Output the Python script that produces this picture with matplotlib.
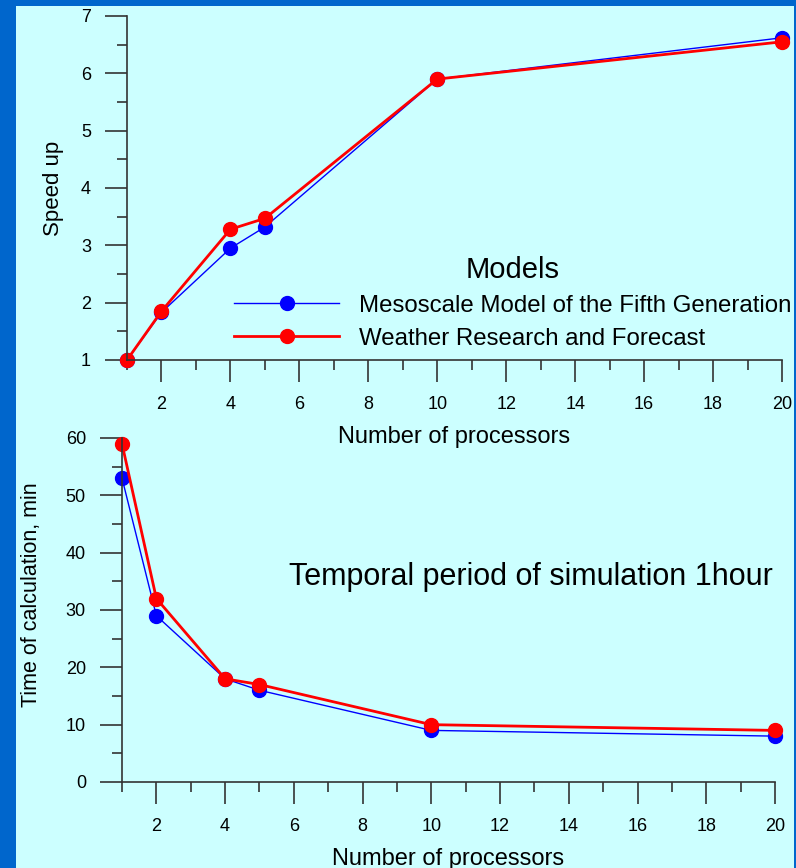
import matplotlib.pyplot as plt
from matplotlib.patches import Rectangle
from matplotlib.ticker import MultipleLocator

plt.rcParams['font.family'] = ['Liberation Sans', 'DejaVu Sans']

processors = [1, 2, 4, 5, 10, 20]
speedup_mm5 = [1.0, 1.83, 2.95, 3.32, 5.9, 6.62]
speedup_wrf = [1.0, 1.85, 3.28, 3.47, 5.9, 6.55]
time_mm5 = [53, 29, 18, 16, 9, 8]
time_wrf = [59, 32, 18, 17, 10, 9]

label_mm5 = "Mesoscale Model of the Fifth Generation"
label_wrf = "Weather Research and Forecast"

bg = '#ccffff'
frame = '#0066cc'
axcol = '#333333'

W, H = 796, 868
fig = plt.figure(figsize=(W / 100, H / 100), dpi=100)
fig.patch.set_facecolor(frame)
fig.patches.append(Rectangle((16 / W, 0), (794 - 16) / W, 1 - 6 / H,
                             transform=fig.transFigure, facecolor=bg,
                             edgecolor='none', zorder=-10))


def style(ax):
    ax.set_facecolor('none')
    for s in ['top', 'right']:
        ax.spines[s].set_visible(False)
    for s in ['left', 'bottom']:
        ax.spines[s].set_color(axcol)
        ax.spines[s].set_linewidth(1.2)
    ax.xaxis.set_major_locator(MultipleLocator(2))
    ax.xaxis.set_minor_locator(MultipleLocator(1))
    ax.tick_params(which='major', direction='out', length=16, width=1.2,
                   color=axcol, labelsize=13, pad=10)
    ax.tick_params(which='minor', direction='out', length=7.5, width=1.2,
                   color=axcol)
    ax.set_xlim(1, 20)


# speed-up
ax1 = fig.add_axes([127 / W, 1 - 360 / H, (782 - 127) / W, (360 - 16) / H])
style(ax1)
ax1.set_ylim(1, 7)
ax1.yaxis.set_major_locator(MultipleLocator(1))
ax1.yaxis.set_minor_locator(MultipleLocator(0.5))
ax1.set_xticks([2, 4, 6, 8, 10, 12, 14, 16, 18, 20])
ax1.plot(processors, speedup_mm5, color='blue', lw=1, marker='o', ms=10,
         clip_on=False, label=label_mm5)
ax1.plot(processors, speedup_wrf, color='red', lw=2, marker='o', ms=10,
         clip_on=False, label=label_wrf)
ax1.set_ylabel('Speed up', fontsize=16, labelpad=12)
ax1.set_xlabel('Number of processors', fontsize=17, labelpad=9)
leg = ax1.legend(loc='lower left', bbox_to_anchor=(0.163, 0.03), frameon=False,
                 fontsize=17.3, title='Models', title_fontsize=21,
                 handlelength=4.4, handletextpad=0.8, labelspacing=0.45,
                 borderpad=0, borderaxespad=0)

# calculation time
ax2 = fig.add_axes([122 / W, 1 - 782 / H, (775 - 122) / W, (782 - 438) / H])
style(ax2)
ax2.set_ylim(0, 60)
ax2.yaxis.set_major_locator(MultipleLocator(10))
ax2.yaxis.set_minor_locator(MultipleLocator(5))
ax2.set_xticks([2, 4, 6, 8, 10, 12, 14, 16, 18, 20])
ax2.plot(processors, time_mm5, color='blue', lw=1, marker='o', ms=10,
         clip_on=False)
ax2.plot(processors, time_wrf, color='red', lw=2, marker='o', ms=10,
         clip_on=False)
ax2.set_ylabel('Time of calculation, min', fontsize=15.5)
ax2.yaxis.set_label_coords(-0.1225, 0.544)
ax2.set_xlabel('Number of processors', fontsize=17, labelpad=9)
ax2.text(0.997, 0.596, 'Temporal period of simulation 1hour', transform=ax2.transAxes,
         ha='right', va='center', fontsize=22)

fig.savefig('out.png', dpi=100, facecolor=fig.get_facecolor())
